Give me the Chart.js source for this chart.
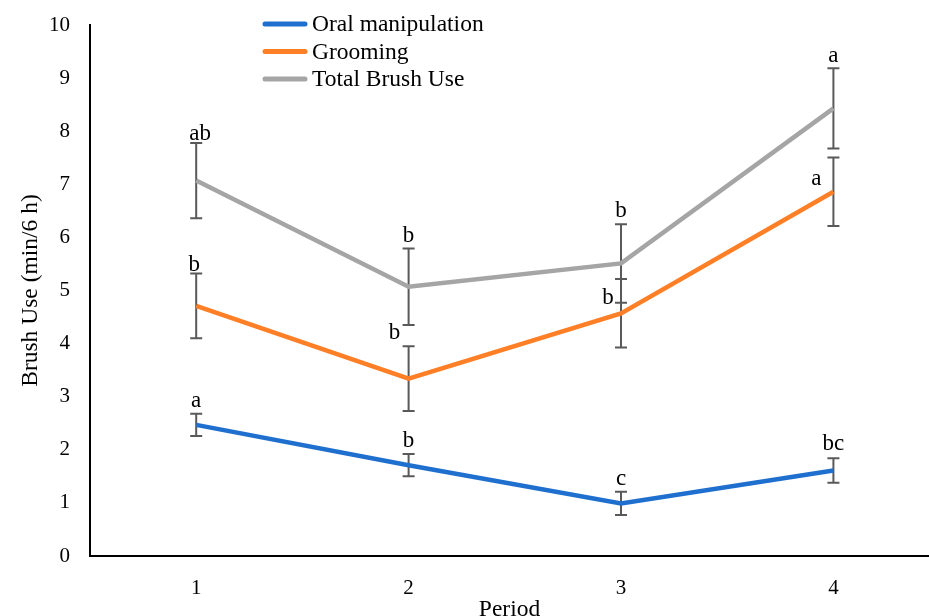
<!DOCTYPE html>
<html>
<head>
<meta charset="utf-8">
<script src="https://cdn.jsdelivr.net/npm/chart.js@4"></script>
<style>
  html, body { margin: 0; padding: 0; background: #fff; }
  #wrap { width: 929px; height: 616px; position: relative; }
</style>
</head>
<body>
<div id="wrap"><canvas id="graficaLineas"></canvas></div>
<script>
// periods on the x axis
const periods = [1, 2, 3, 4];
const yTicks = [0, 1, 2, 3, 4, 5, 6, 7, 8, 9, 10];

// means (min/6 h)
const oralMeans = [2.47, 1.71, 0.99, 1.61];
const groomMeans = [4.71, 3.34, 4.57, 6.86];
const totalMeans = [7.07, 5.07, 5.51, 8.43];

// standard errors (half the bar)
const oralErr = [0.21, 0.21, 0.22, 0.23];
const groomErr = [0.61, 0.61, 0.645, 0.645];
const totalErr = [0.71, 0.72, 0.74, 0.755];

// significance letters
const oralLetters = ['a', 'b', 'c', 'bc'];
const groomLetters = ['b', 'b', 'b', 'a'];
const totalLetters = ['ab', 'b', 'b', 'a'];

// letter placement relative to top of the error bar, px [dx, dy]
const oralLetterPos = [[0, -7], [0, -7], [0, -7], [0, -8]];
const groomLetterPos = [[-2, -3], [-14, -7], [-13, 25], [-17, 28]];
const totalLetterPos = [[4, -3], [0, -7], [0, -7], [0, -6]];

const serif = '"Liberation Serif", "Times New Roman", serif';
Chart.defaults.font.family = serif;
Chart.defaults.color = '#000';

function puntos(vals) {
    return periods.map((p, i) => ({ x: p, y: vals[i] }));
}

const errorBars = {
    id: 'errorBars',
    beforeDatasetsDraw(chart) {
        const { ctx, scales: { x, y } } = chart;
        ctx.save();
        ctx.strokeStyle = '#595959';
        ctx.lineWidth = 2;
        chart.data.datasets.forEach(ds => {
            ds.data.forEach((pt, i) => {
                const px = x.getPixelForValue(pt.x);
                const top = y.getPixelForValue(pt.y + ds.errors[i]);
                const bot = y.getPixelForValue(pt.y - ds.errors[i]);
                ctx.beginPath();
                ctx.moveTo(px, top); ctx.lineTo(px, bot);
                ctx.moveTo(px - 6, top); ctx.lineTo(px + 6, top);
                ctx.moveTo(px - 6, bot); ctx.lineTo(px + 6, bot);
                ctx.stroke();
            });
        });
        ctx.restore();
    },
    afterDatasetsDraw(chart) {
        const { ctx, scales: { x, y } } = chart;
        ctx.save();
        ctx.fillStyle = '#000';
        ctx.font = '23px ' + serif;
        ctx.textAlign = 'center';
        ctx.textBaseline = 'alphabetic';
        chart.data.datasets.forEach(ds => {
            ds.data.forEach((pt, i) => {
                const px = x.getPixelForValue(pt.x);
                const top = y.getPixelForValue(pt.y + ds.errors[i]);
                const off = ds.letterPos[i];
                ctx.fillText(ds.letters[i], px + off[0], top + off[1]);
            });
        });
        // legend, stacked like the original
        ctx.font = '23.5px ' + serif;
        ctx.textAlign = 'left';
        ctx.textBaseline = 'middle';
        ctx.lineCap = 'round';
        ctx.lineWidth = 5;
        chart.data.datasets.forEach((ds, k) => {
            const ly = 24 + k * 27.5;
            ctx.strokeStyle = ds.borderColor;
            ctx.beginPath();
            ctx.moveTo(265, ly); ctx.lineTo(305, ly);
            ctx.stroke();
            ctx.fillText(ds.label, 312, ly + 1);
        });
        ctx.restore();
    }
};

const canvas = document.getElementById('graficaLineas');
new Chart(canvas.getContext('2d'), {
    type: 'line',
    data: {
        datasets: [
            { label: 'Oral manipulation', data: puntos(oralMeans), errors: oralErr,
              letters: oralLetters, letterPos: oralLetterPos, borderColor: '#1f6fcf' },
            { label: 'Grooming', data: puntos(groomMeans), errors: groomErr,
              letters: groomLetters, letterPos: groomLetterPos, borderColor: '#ff7f27' },
            { label: 'Total Brush Use', data: puntos(totalMeans), errors: totalErr,
              letters: totalLetters, letterPos: totalLetterPos, borderColor: '#a5a5a5' }
        ].map(ds => Object.assign(ds, {
            borderWidth: 4.5, pointRadius: 0, tension: 0, fill: false
        }))
    },
    options: {
        responsive: true,
        maintainAspectRatio: false,
        animation: false,
        layout: { padding: { top: 25, right: 0, left: 0, bottom: 0 } },
        plugins: { legend: { display: false }, tooltip: { enabled: false } },
        scales: {
            x: {
                type: 'linear',
                min: 0.5,
                max: 4.45,
                grid: { display: false, drawTicks: false },
                border: { color: '#000', width: 2 },
                afterBuildTicks: s => { s.ticks = periods.map(v => ({ value: v })); },
                afterFit: s => { s.height = 60; s.paddingRight = 0; },
                ticks: { padding: 20, font: { size: 21 }, color: '#000' },
                title: { display: true, text: 'Period', font: { size: 23.5 }, color: '#000',
                         padding: { top: 0, bottom: -8 } }
            },
            y: {
                min: 0,
                max: 10,
                grid: { display: false, drawTicks: false },
                border: { color: '#000', width: 2 },
                afterBuildTicks: s => { s.ticks = yTicks.map(v => ({ value: v })); },
                afterFit: s => { s.width = 90; s.paddingTop = 0; s.paddingBottom = 0; },
                ticks: { padding: 20, font: { size: 21 }, color: '#000' },
                title: { display: true, text: 'Brush Use (min/6 h)', font: { size: 23.5 }, color: '#000',
                         padding: { top: 17, bottom: 0 } }
            }
        }
    },
    plugins: [errorBars]
});
</script>
</body>
</html>
